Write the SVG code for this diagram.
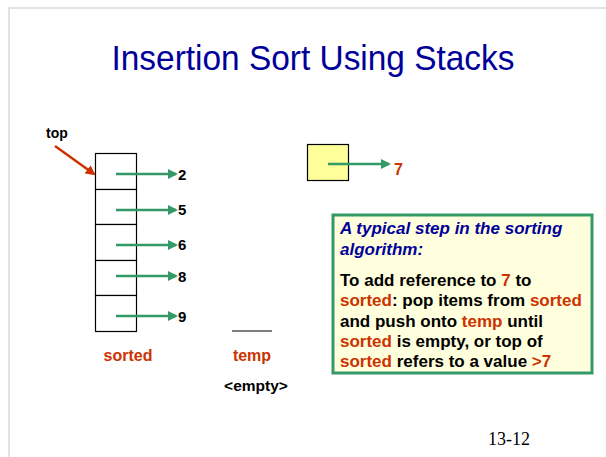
<svg xmlns="http://www.w3.org/2000/svg" width="606" height="457" viewBox="0 0 606 457">
  <defs>
    <marker id="ah" markerWidth="4" markerHeight="4" refX="3.2" refY="2" orient="auto" markerUnits="strokeWidth">
      <path d="M0,0 L4,2 L0,4 Z" fill="#339966"/>
    </marker>
    <marker id="ahr" markerWidth="4" markerHeight="4" refX="3.2" refY="2" orient="auto" markerUnits="strokeWidth">
      <path d="M0,0 L4,2 L0,4 Z" fill="#cc3300"/>
    </marker>
  </defs>
  <style>
    .b { font-family: "Liberation Sans", Arial, sans-serif; font-weight: bold; }
    .num { font-size: 15px; fill: #000; }
    .red { fill: #cc3300; }
    .cell { fill: #fff; stroke: #000; stroke-width: 1.2; }
    .ptr { stroke: #339966; stroke-width: 2.5; fill: none; marker-end: url(#ah); }
    .body { font-size: 17px; fill: #000; }
  </style>
  <rect width="606" height="457" fill="#fff"/>
  <!-- slide frame -->
  <path d="M9,457 V8 H606" fill="none" stroke="#d9d9d9" stroke-width="1.5"/>

  <text x="313" y="70" text-anchor="middle" font-family="Liberation Sans, Arial, sans-serif" font-size="35" textLength="403" lengthAdjust="spacingAndGlyphs" fill="#000099">Insertion Sort Using Stacks</text>

  <!-- sorted stack -->
  <g id="sorted-stack">
    <rect class="cell" x="95.5" y="153.5" width="41" height="36"/>
    <rect class="cell" x="95.5" y="189.5" width="41" height="35"/>
    <rect class="cell" x="95.5" y="224.5" width="41" height="36"/>
    <rect class="cell" x="95.5" y="260.5" width="41" height="35"/>
    <rect class="cell" x="95.5" y="295.5" width="41" height="36"/>
    <text class="b red" x="128" y="361" font-size="16" text-anchor="middle">sorted</text>
  </g>

  <g id="values" class="b num">
    <text x="178" y="180">2</text>
    <text x="178" y="215">5</text>
    <text x="178" y="250">6</text>
    <text x="178" y="282">8</text>
    <text x="178" y="322">9</text>
  </g>

  <g id="top-label">
    <text class="b" x="46" y="138" font-size="14">top</text>
  </g>

  <!-- temp stack (empty) -->
  <g id="temp-stack">
    <line x1="232" y1="331" x2="272" y2="331" stroke="#000" stroke-width="1.2"/>
    <text class="b red" x="252" y="361" font-size="16" text-anchor="middle">temp</text>
    <text class="b" x="256" y="391" font-size="15.5" text-anchor="middle">&lt;empty&gt;</text>
  </g>

  <!-- item being inserted -->
  <g id="new-item">
    <rect x="307.5" y="144.5" width="41" height="36" fill="#ffff99" stroke="#000" stroke-width="1.2"/>
    <text class="b red" x="394" y="175" font-size="16">7</text>
  </g>

  <!-- explanation box -->
  <g id="note">
    <rect x="333" y="215" width="259" height="158" fill="#ffffdd" stroke="#339966" stroke-width="3"/>
    <text class="b" x="340" y="234" font-size="17" font-style="italic" fill="#000099">A typical step in the sorting</text>
    <text class="b" x="340" y="255" font-size="17" font-style="italic" fill="#000099">algorithm:</text>
    <text class="b body" x="340" y="286">To add reference to <tspan class="red">7</tspan> to</text>
    <text class="b body" x="340" y="306"><tspan class="red">sorted</tspan>: pop items from <tspan class="red">sorted</tspan></text>
    <text class="b body" x="340" y="327">and push onto <tspan class="red">temp</tspan> until</text>
    <text class="b body" x="340" y="347"><tspan class="red">sorted</tspan> is empty, or top of</text>
    <text class="b body" x="340" y="367"><tspan class="red">sorted</tspan> refers to a value <tspan class="red">&gt;7</tspan></text>
  </g>

  <text x="509" y="445" text-anchor="middle" font-family="Liberation Serif, 'Times New Roman', serif" font-size="18" fill="#000">13-12</text>

  <!-- connectors -->
  <g id="connectors">
    <line class="ptr" x1="116" y1="174" x2="176" y2="174"/>
    <line class="ptr" x1="116" y1="210" x2="176" y2="210"/>
    <line class="ptr" x1="116" y1="245" x2="176" y2="245"/>
    <line class="ptr" x1="116" y1="276" x2="176" y2="276"/>
    <line class="ptr" x1="116" y1="316" x2="176" y2="316"/>
    <line class="ptr" x1="328" y1="164" x2="389" y2="164"/>
    <line x1="55" y1="146" x2="94" y2="174" stroke="#cc3300" stroke-width="2.5" marker-end="url(#ahr)"/>
  </g>
</svg>
